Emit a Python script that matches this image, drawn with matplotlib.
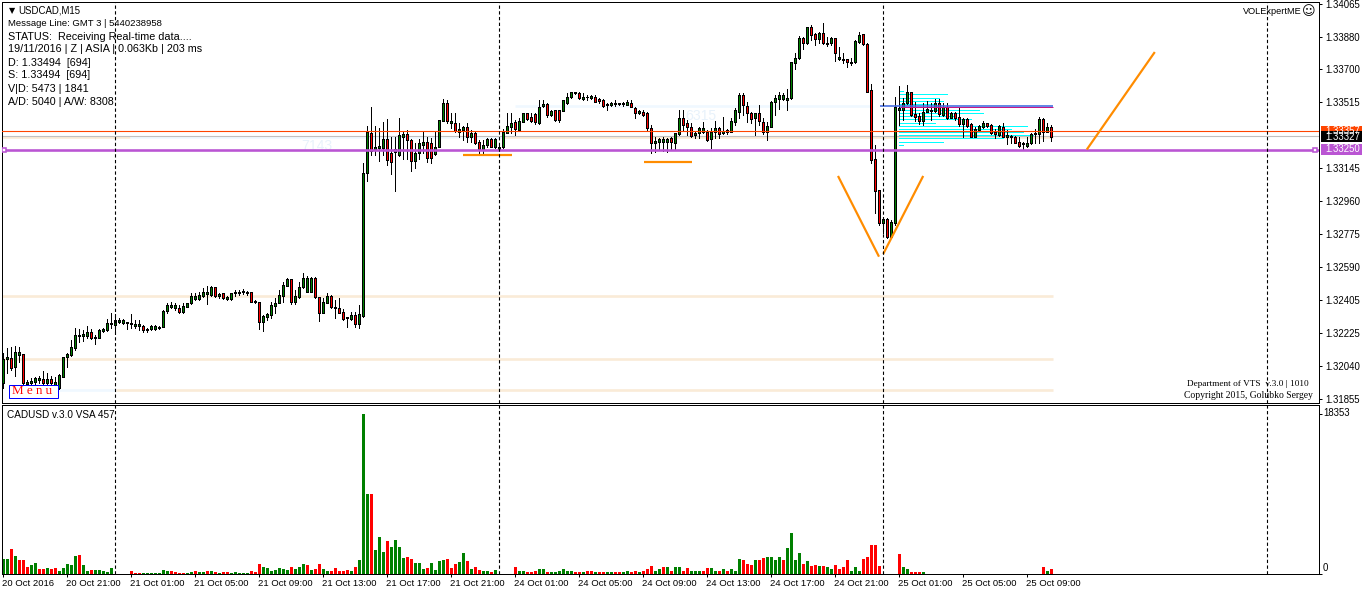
import numpy as np
import matplotlib
matplotlib.use('Agg')
import matplotlib.pyplot as plt
from matplotlib.patches import Rectangle
from matplotlib.transforms import ScaledTranslation

# candles are in 1e-5 price units: 33250 means 1.33250
high_pts = [
    32108,32136,32142,32149,32142,32105,31959,31968,31978,31981,
    32011,31996,31981,31974,31993,32090,32108,32183,32248,32243,
    32239,32261,32243,32211,32243,32248,32299,32332,32327,32304,
    32299,32286,32329,32295,32295,32267,32248,32267,32267,32261,
    32351,32388,32398,32388,32379,32388,32392,32444,32448,32454,
    32472,32485,32485,32482,32448,32448,32429,32448,32463,32463,
    32467,32459,32454,32407,32398,32323,32332,32398,32416,32463,
    32510,32528,32525,32463,32510,32556,32541,32534,32538,32426,
    32416,32444,32435,32407,32416,32355,32314,32342,32342,32379,
    33172,33381,33490,33381,33372,33406,33419,33322,33322,33424,
    33350,33359,33307,33284,33307,33350,33322,33312,33350,33415,
    33531,33527,33452,33456,33396,33381,33396,33359,33350,33303,
    33303,33312,33312,33312,33275,33363,33452,33452,33415,33424,
    33456,33456,33452,33452,33527,33527,33508,33471,33471,33471,
    33527,33564,33574,33574,33570,33564,33555,33555,33555,33536,
    33531,33508,33518,33527,33512,33518,33527,33527,33490,33471,
    33471,33462,33387,33322,33312,33322,33312,33322,33340,33471,
    33471,33415,33396,33350,33378,33406,33359,33368,33411,33378,
    33434,33363,33424,33480,33564,33564,33518,33462,33452,33499,
    33424,33406,33521,33555,33574,33564,33587,33742,33788,33885,
    33882,33938,33947,33904,33910,33960,33882,33882,33872,33822,
    33788,33757,33760,33863,33910,33897,33844,33615,33275,33023,
    32873,32864,32855,33542,33605,33536,33611,33574,33518,33452,
    33508,33523,33508,33531,33531,33508,33508,33462,33462,33490,
    33424,33424,33396,33374,33387,33411,33400,33393,33363,33387,
    33396,33359,33331,33325,33322,33294,33318,33340,33363,33430,
    33424,33400,33387,
]
open_pts = [
    31944,32075,32080,32034,32099,32103,31937,31940,31950,31959,
    31963,31940,31963,31931,31912,31978,32090,32099,32140,32205,
    32207,32207,32226,32192,32196,32235,32239,32274,32265,32286,
    32280,32280,32271,32263,32261,32263,32239,32243,32245,32252,
    32258,32347,32370,32364,32360,32342,32370,32388,32411,32411,
    32429,32439,32435,32478,32429,32444,32414,32411,32444,32448,
    32450,32444,32450,32398,32394,32282,32314,32323,32375,32392,
    32431,32487,32523,32398,32426,32478,32454,32454,32532,32422,
    32336,32392,32429,32364,32360,32338,32304,32301,32323,32271,
    32318,33116,33340,33251,33256,33256,33307,33228,33238,33219,
    33322,33337,33303,33187,33232,33275,33290,33288,33223,33266,
    33411,33508,33398,33398,33351,33359,33374,33322,33340,33294,
    33251,33275,33307,33262,33254,33262,33344,33374,33406,33359,
    33406,33452,33430,33449,33396,33493,33503,33443,33471,33471,
    33467,33508,33542,33564,33568,33533,33542,33536,33546,33531,
    33527,33497,33501,33505,33503,33503,33501,33512,33480,33452,
    33462,33456,33368,33284,33290,33290,33290,33312,33288,33337,
    33424,33396,33374,33331,33340,33350,33350,33307,33350,33368,
    33340,33350,33350,33406,33462,33555,33495,33452,33428,33452,
    33406,33350,33378,33518,33534,33531,33527,33536,33736,33760,
    33872,33844,33934,33897,33867,33904,33841,33844,33872,33757,
    33751,33755,33736,33738,33854,33895,33841,33583,33195,33021,
    32840,32859,32761,32836,33471,33471,33508,33570,33449,33437,
    33411,33462,33467,33467,33508,33443,33486,33428,33452,33430,
    33393,33419,33393,33322,33359,33374,33396,33387,33350,33331,
    33374,33322,33322,33322,33290,33279,33269,33284,33335,33335,
    33421,33350,33374,
]
close_pts = [
    32075,32086,32028,32114,32114,31940,31950,31955,31972,31968,
    31940,31963,31944,31950,31987,32088,32103,32142,32211,32211,
    32215,32226,32192,32200,32239,32245,32276,32280,32295,32295,
    32295,32286,32280,32273,32271,32239,32243,32261,32261,32258,
    32345,32379,32381,32379,32338,32373,32388,32431,32429,32435,
    32452,32450,32482,32429,32441,32420,32426,32444,32450,32454,
    32457,32452,32398,32401,32282,32317,32327,32379,32388,32435,
    32491,32523,32394,32429,32478,32528,32528,32528,32422,32336,
    32394,32429,32366,32370,32336,32299,32310,32323,32271,32329,
    33116,33350,33241,33262,33269,33307,33191,33182,33251,33331,
    33337,33303,33187,33228,33288,33294,33204,33200,33262,33415,
    33512,33409,33411,33353,33363,33374,33322,33340,33284,33251,
    33275,33307,33266,33307,33266,33350,33381,33400,33363,33411,
    33452,33421,33411,33406,33486,33503,33443,33467,33415,33415,
    33527,33546,33570,33570,33536,33546,33546,33551,33518,33521,
    33493,33503,33508,33512,33508,33508,33516,33490,33452,33465,
    33443,33368,33284,33297,33307,33307,33307,33290,33340,33424,
    33387,33374,33327,33340,33368,33368,33303,33350,33368,33337,
    33355,33359,33409,33471,33555,33499,33452,33422,33452,33411,
    33350,33381,33518,33536,33553,33555,33536,33738,33760,33872,
    33844,33934,33891,33867,33904,33844,33844,33872,33788,33766,
    33755,33738,33742,33857,33891,33841,33574,33191,33019,32840,
    32859,32761,32844,33490,33484,33512,33570,33443,33434,33411,
    33462,33475,33471,33508,33449,33486,33428,33452,33428,33393,
    33419,33381,33322,33366,33381,33396,33383,33344,33335,33381,
    33322,33329,33325,33288,33269,33284,33284,33337,33340,33421,
    33350,33374,33322,
]
low_pts = [
    31912,31996,32015,31981,32062,31931,31931,31931,31936,31940,
    31931,31931,31936,31922,31907,31974,32034,32093,32127,32174,
    32177,32192,32189,32161,32192,32230,32235,32248,32215,32276,
    32273,32243,32248,32248,32239,32230,32230,32239,32239,32245,
    32254,32336,32360,32351,32332,32336,32366,32383,32407,32407,
    32426,32385,32431,32422,32416,32411,32407,32407,32429,32435,
    32439,32435,32394,32392,32243,32235,32295,32304,32332,32388,
    32394,32484,32383,32383,32416,32474,32450,32450,32416,32291,
    32332,32388,32360,32304,32332,32295,32254,32295,32258,32252,
    32310,33075,33219,33219,33187,33219,33163,33111,33019,33213,
    33195,33195,33131,33144,33195,33228,33182,33172,33219,33262,
    33407,33400,33368,33350,33322,33303,33294,33294,33281,33225,
    33225,33262,33262,33256,33251,33256,33340,33340,33331,33355,
    33402,33415,33406,33393,33393,33486,33434,33437,33411,33402,
    33464,33505,33538,33561,33533,33527,33527,33531,33514,33508,
    33490,33471,33495,33493,33499,33495,33497,33486,33428,33449,
    33439,33359,33228,33238,33247,33243,33238,33251,33251,33331,
    33359,33331,33322,33312,33312,33344,33299,33256,33312,33312,
    33337,33337,33346,33387,33424,33443,33406,33396,33331,33387,
    33337,33303,33374,33443,33475,33527,33471,33531,33699,33757,
    33811,33839,33863,33835,33844,33839,33829,33835,33747,33751,
    33732,33710,33723,33732,33844,33835,33570,33172,32896,32827,
    32784,32752,32758,32827,33387,33415,33505,33437,33409,33393,
    33387,33458,33415,33463,33437,33439,33421,33424,33415,33381,
    33322,33378,33318,33318,33355,33368,33379,33337,33312,33327,
    33318,33280,33288,33284,33262,33251,33266,33280,33288,33288,
    33299,33346,33297,
]

# VSA volume, negative = red bar, positive = green bar
signed_volume = [
    1694,1694,-2849,1964,-1502,-1502,-732,924,1155,-462,
    -462,578,-462,-578,231,578,1040,924,1964,-2079,
    924,231,-347,347,347,231,116,578,0,0,
    0,0,-231,-77,-77,77,77,77,77,77,
    347,231,-231,-116,-77,-77,77,154,-231,116,
    116,-231,231,-116,77,-116,-116,77,116,77,
    77,77,-231,-116,-1040,693,578,231,347,578,
    462,347,-693,462,693,1040,-924,347,-462,-1040,
    462,231,-231,-578,-231,-231,-347,231,-693,1540,
    18353,9232,-9232,2657,4158,2426,-3696,3003,3812,3003,
    1733,-1848,-1617,1155,1155,462,-578,1155,347,1386,
    1502,-1617,-578,-1040,1271,2310,-1386,462,-693,-347,
    231,231,-116,347,0,0,0,0,-704,231,
    300,-116,-116,-231,503,503,-116,116,116,231,
    503,300,231,-116,-116,116,-231,-231,116,-116,
    -116,116,116,-116,-116,116,231,-116,-231,116,
    -231,-503,-905,300,503,-704,704,-300,704,704,
    -300,-603,231,231,231,-231,-603,603,300,-231,
    503,-231,503,300,1709,-1608,-1105,-1005,1508,-1508,
    -1809,1910,1910,1508,1910,-1608,2915,4724,1508,2312,
    -1105,1408,-905,-1005,905,-905,704,503,-1005,-503,
    -704,-1608,300,804,231,-1709,-1910,-3317,-3317,-905,
    0,0,0,0,-2212,804,503,-116,-116,-116,
    116,0,0,0,0,0,0,0,0,0,
    0,0,0,0,0,0,0,0,0,0,
    0,0,0,0,0,0,0,0,0,0,
    -704,300,-503,
]

# volume profile rows (price, length in bars)
profile_prices = [33578,33559,33540,33524,33507,33488,33471,33453,33436,
                  33419,33400,33380,33365,33348,33331,33313,33291,33274]
profile_lengths = [1,12,10,11,8.5,14.7,20,21,13.8,18,9,32,28,31,33.5,26,11,1]

axis_prices = [1.34065,1.33880,1.33700,1.33515,1.33145,1.32960,1.32775,
               1.32590,1.32405,1.32225,1.32040,1.31855]
axis_labels = ['1.34065','1.33880','1.33700','1.33515','1.33145','1.32960','1.32775',
               '1.32590','1.32405','1.32225','1.32040','1.31855']
date_ticks = [0,16,32,48,64,80,96,112,128,144,160,176,192,208,224,240,256]
date_labels = ['20 Oct 2016','20 Oct 21:00','21 Oct 01:00','21 Oct 05:00','21 Oct 09:00',
               '21 Oct 13:00','21 Oct 17:00','21 Oct 21:00','24 Oct 01:00','24 Oct 05:00',
               '24 Oct 09:00','24 Oct 13:00','24 Oct 17:00','24 Oct 21:00','25 Oct 01:00',
               '25 Oct 05:00','25 Oct 09:00']
session_bars = [28,124,220,316]

purple_price = 1.33250
ask_price = 1.33352
bid_price = 1.33327
level_price = 1.33494
band_prices = [1.33320,1.32430,1.32077,1.31904]

# trend lines: (bar, price) pairs
flat_a = ([114.9,127.1],[1.33221,1.33221])
flat_b = ([160.1,172.1],[1.33182,1.33182])
vee_left = ([208.7,218.95],[1.33102,1.32650])
vee_right = ([230.0,220.0],[1.33102,1.32665])
rise = ([270.9,287.9],[1.33250,1.33796])

W, H = 1362, 595
PX = 0.72  # one pixel in points at dpi 100
SNAP = 0.3  # agg snaps lines half a pixel towards the next column
GREEN, RED = '#008000', '#FF0000'
BEIGE, PALE = '#FAEBD7', '#F0F8FF'
PURPLE, ORANGE = '#BA55D3', '#FF8C00'
SANS = 'Liberation Sans'
SERIF = 'Liberation Serif'


def to_price(pts):
    return 1 + np.array(pts, dtype=float) / 1e5


def y_to_price(y):
    return 1 + (34087.4 - 5.6 * y) / 1e5


def x_to_bar(x):
    return (x - 3.5) / 4


def add_pane(x0, y0, x1, y1):
    pane = fig.add_axes([(x0 - SNAP) / W, 1 - y1 / H, (x1 - x0) / W, (y1 - y0) / H])
    pane.set_xlim(x_to_bar(x0), x_to_bar(x1))
    for s in pane.spines.values():
        s.set_linewidth(PX)
    return pane


def px_text(x, y, s, size=10, **kw):
    kw.setdefault('family', SANS)
    kw.setdefault('va', 'center')
    kw.setdefault('color', 'black')
    fig.text(x / W, 1 - y / H, s, fontsize=size * PX, **kw)


def px_box(x0, y0, x1, y1, face, edge='none'):
    fig.add_artist(Rectangle((x0 / W, 1 - y1 / H), (x1 - x0) / W, (y1 - y0) / H,
                             transform=fig.transFigure, facecolor=face, edgecolor=edge,
                             linewidth=PX, zorder=6))


fig = plt.figure(figsize=(W / 100, H / 100), dpi=100)
ax = add_pane(2.5, 2.2, 1319.5, 403.2)
ax.set_ylim(y_to_price(403.2), y_to_price(2.2))
vol_ax = add_pane(2.5, 405.2, 1319.5, 574.2)
vol_ax.set_ylim((573.5 - 574.2) * 115.4, (573.5 - 405.2) * 115.4)

# background levels
bar_end = 262.5
for p in band_prices[1:3]:
    ax.hlines(p, -0.5, bar_end, color=BEIGE, lw=2.6 * PX, zorder=1)
ax.hlines(band_prices[3], x_to_bar(58), x_to_bar(116), color=PALE, lw=2.6 * PX, zorder=1)
ax.hlines(band_prices[3], x_to_bar(116), bar_end, color=BEIGE, lw=2.6 * PX, zorder=1)
ax.hlines(band_prices[0], -0.5, x_to_bar(130), color=BEIGE, lw=2.6 * PX, zorder=1)
ax.hlines(band_prices[0], x_to_bar(130), x_to_bar(503), color=PALE, lw=2.6 * PX, zorder=1)
ax.hlines(band_prices[0], x_to_bar(503), bar_end, color=BEIGE, lw=2.6 * PX, zorder=1)
ax.hlines(level_price, x_to_bar(515), x_to_bar(872), color=PALE, lw=2.6 * PX, zorder=1)
ax.axhline(bid_price, color='#C0C0C0', lw=PX * 1.1, zorder=1.5)
ax.text(x_to_bar(302), y_to_price(146), '7143', color='#E8F2FB', fontsize=14 * PX, family=SANS, va='center', zorder=1.2)
ax.text(x_to_bar(686), y_to_price(116), '6315', color='#E8F2FB', fontsize=14 * PX, family=SANS, va='center', zorder=1.2)

# profile and candles
start = x_to_bar(899)
prof_y = to_price(profile_prices)
ax.hlines(prof_y, start, start + np.array(profile_lengths), color='#00FFFF', lw=PX, zorder=2, antialiased=False)

bars = np.arange(len(high_pts))
o, c = to_price(open_pts), to_price(close_pts)
ax.vlines(bars, to_price(low_pts), to_price(high_pts), color='black', lw=PX, zorder=3, antialiased=False)
up = c >= o
ax.bar(bars[up], (c - o)[up], bottom=o[up], width=0.5, color=GREEN, edgecolor='black',
       linewidth=PX, zorder=3.5, antialiased=False)
ax.bar(bars[~up], (o - c)[~up], bottom=c[~up], width=0.5, color=RED, edgecolor='black',
       linewidth=PX, zorder=3.5, antialiased=False)

# price lines on top of the candles
ax.axhline(ask_price, color='#FF4500', lw=PX * 1.1, zorder=4)
ax.axhline(purple_price, color=PURPLE, lw=2.6 * PX, zorder=4)
ax.plot([0.3, 328.0], [purple_price, purple_price], ls='none', marker='s', ms=4.5 * PX,
        mfc='white', mec=PURPLE, mew=1.6 * PX, zorder=5)
ax.hlines(level_price - 0.00006, x_to_bar(900), bar_end, color='#C71585', lw=PX, zorder=4)
ax.hlines(level_price, x_to_bar(880), bar_end, color='#4169E1', lw=1.6 * PX, zorder=4.1)
for xs, ys in (flat_a, flat_b, vee_left, vee_right, rise):
    ax.plot(xs, ys, color=ORANGE, lw=2.2 * PX, zorder=4.5, solid_capstyle='butt')

# volume pane
vol = np.array(signed_volume, dtype=float)
bar_colors = [GREEN if v > 0 else RED for v in vol]
vol_ax.bar(bars, np.abs(vol), width=0.75, color=bar_colors, linewidth=0, zorder=2, antialiased=False)

for a in (ax, vol_ax):
    for b in session_bars:
        a.axvline(b, color='black', lw=PX * 1.1, ls=(0, (3, 2.2)), zorder=5)
    a.yaxis.tick_right()
    a.tick_params(axis='y', length=3 * PX, width=PX, pad=2, labelsize=9.6 * PX)

ax.set_xticks([])
ax.set_yticks(axis_prices)
ax.set_yticklabels(axis_labels, family=SANS)
vol_ax.set_yticks([0, 18353])
vol_ax.set_yticklabels([])
vol_ax.set_xticks(date_ticks)
vol_ax.set_xticklabels(date_labels, family=SANS, fontsize=9.5 * PX, ha='left')
vol_ax.tick_params(axis='x', length=3 * PX, width=PX, pad=1)
nudge = ScaledTranslation(-1 / 100, 0, fig.dpi_scale_trans)
for lbl in vol_ax.get_xticklabels():
    lbl.set_transform(lbl.get_transform() + nudge)

# price flags on the right
px_box(1321, 126, 1362, 136, '#FF4500')
px_text(1325, 131, '1.33357', 9.6, color='white', zorder=7)
px_box(1321, 131, 1362, 142, 'black')
px_text(1325, 136.5, '1.33327', 9.6, color='white', zorder=7)
px_box(1321, 144, 1362, 155, PURPLE)
px_text(1325, 149.5, '1.33250', 9.6, color='white', zorder=7)
px_text(1323, 412.5, '18353', 9.6)
px_text(1323, 568, '0', 9.6)

# corner texts
px_text(9, 10.5, '\u25BC', 8, family='DejaVu Sans')
px_text(18, 10.5, 'USDCAD,M15', 9.7)
px_text(7.5, 24, 'Message Line: GMT 3 | 5440238958', 9.5)
info_lines = ['STATUS:  Receiving Real-time data....', '19/11/2016 | Z | ASIA | 0.063Kb | 203 ms',
              'D: 1.33494  [694]', 'S: 1.33494  [694]', 'V|D: 5473 | 1841', 'A/D: 5040 | A/W: 8308']
for k, line in enumerate(info_lines):
    px_text(8, 36.5 + 13 * k, line, 10.75)
px_text(1243, 12, 'VOLExpertME', 9.2)
px_text(1301.5, 12, '\u263A', 13, family='DejaVu Sans')
px_text(1309, 384.5, 'Department of VTS  v.3.0 | 1010', 9.3, family=SERIF, ha='right')
px_text(1313, 395, 'Copyright 2015, Golubko Sergey', 9.6, family=SERIF, ha='right')
px_text(7, 414.5, 'CADUSD v.3.0 VSA 457', 10)
px_box(8.5, 384.5, 57.5, 397.5, 'white', edge='#0000FF')
px_text(12, 391, 'M e n u', 13, family=SERIF, color='#FF0000', zorder=7)

fig.savefig('out.png', dpi=100, facecolor='white')
